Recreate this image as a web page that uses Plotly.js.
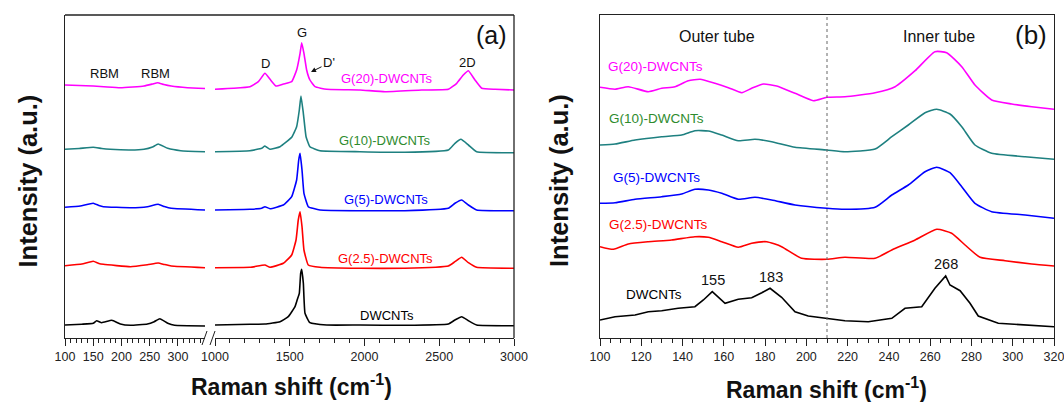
<!DOCTYPE html>
<html><head><meta charset="utf-8">
<script src="https://cdn.plot.ly/plotly-3.0.1.min.js"></script>
<style>html,body{margin:0;padding:0;background:#fff}#chart{width:1064px;height:402px}</style>
</head><body><div id="chart"></div>
<script>
// ---------------- DATA ----------------
const seriesNames = ["G(20)-DWCNTs","G(10)-DWCNTs","G(5)-DWCNTs","G(2.5)-DWCNTs","DWCNTs"];
const peakLabelsA = ["RBM","RBM","D","G","D'","2D"];
const peakLabelsB = ["155","183","268"];
const xTicksA1 = [100,150,200,250,300];
const xTicksA2 = [1000,1500,2000,2500,3000];

// Panel (a), low-frequency segment (100-350 cm-1), stacked intensities
const aLoX_G20 = [100,125,150,175,198,220,240,255,264,275,288,317,348];
const aLoY_G20 = [255,254.5,254,253,252.3,253,254,256,257.3,255.5,254,252.3,251.5];
const aLoX_G10 = [100,125,150,165,180,216,240,255,265,282,305,348];
const aLoY_G10 = [190.7,191.5,192.7,191.5,190.7,190,190.7,193,196,191.7,189.3,188.3];
const aLoX_G5  = [100,127,150,160,168,216,246,265,276,288,348];
const aLoY_G5  = [132.7,134,136.7,134.5,133.3,132.3,133.3,135.7,133.5,131.7,130];
const aLoX_G25 = [100,130,150,160,168,216,246,265,276,288,348];
const aLoY_G25 = [74.3,76,78.7,76.5,75.7,73.3,75.3,77,75.5,74,72.3];
const aLoX_D   = [100,130,150,156,165,183,198,216,246,258,268,282,294,348];
const aLoY_D   = [15,15.8,16.7,19.3,17.3,19.7,16,14.7,16,18.3,21.3,16.7,14.7,14];

// Panel (a), high-frequency segment (1000-3000 cm-1)
const aHiX_G20 = [1000,1122,1234,1290,1334,1368,1408,1457,1513,1546,1569,1580,1595,1613,1635,1669,1747,1970,2137,2382,2561,2617,2661,2695,2739,2784,2873,3000];
const aHiY_G20 = [250.7,251.7,253.3,258.3,266.7,260.7,254,256,258.3,270,286.7,297.3,286.7,270,260,253.3,250.7,250,248.3,250,250.7,256.7,265,269.3,260,251.7,250.7,250];
const aHiX_G10 = [1000,1234,1312,1334,1368,1435,1513,1546,1564,1575,1591,1609,1635,1702,1970,2270,2561,2605,2645,2695,2750,3000];
const aHiY_G10 = [188.3,189.3,191.7,194,190.7,193.3,202.7,213.3,230,244,226.7,203.3,193.3,189.3,188.3,187.7,190,196.7,200.7,195,188.3,187.3];
const aHiX_G5  = [1000,1234,1312,1334,1368,1457,1513,1546,1560,1569,1582,1595,1624,1702,1970,2270,2561,2605,2650,2695,2750,3000];
const aHiY_G5  = [130,130.7,131.7,133.3,131.3,135,143.3,160,180,186.7,170,146.7,133.3,130,129.3,129.3,131.7,136.7,140,135,130,129.3];
const aHiX_G25 = [1000,1234,1334,1368,1457,1513,1542,1557,1569,1582,1595,1624,1702,1970,2270,2561,2605,2650,2695,2750,3000];
const aHiY_G25 = [72.3,72.7,75,72.7,76.7,85,100,120,128.3,113.3,90,75,72.7,71.7,71.7,74,78.3,82.7,77.3,72.7,71.7];
const aHiX_D   = [1000,1234,1334,1435,1490,1535,1551,1564,1573,1580,1591,1602,1635,1747,1970,2270,2561,2605,2650,2695,2750,3000];
const aHiY_D   = [15,15.7,16,18.3,23.3,33.3,40.7,46.7,66.7,70.7,56.7,26.7,17.3,15,15,14.7,16,20,23.3,19.3,15,14.3];

// Panel (b), RBM region (100-320 cm-1)
const bX_G20 = [100,107.3,113.7,123.4,129.9,136.3,142.8,148.5,155.7,162.2,168.7,173.5,179.2,185.6,194.5,203.4,209.9,218.7,233.3,243,252.7,262.3,268,275.3,281.7,289.8,299.5,309.2,320];
const bY_G20 = [252.7,250.7,253.3,248.3,251.7,253.3,259.3,260.7,256.7,252.3,247.3,251.7,256,254,246.7,239.3,242.7,243.3,247.3,253.3,269.3,288.3,287.3,273.3,255,240,236,233.3,230.7];
const bX_G10 = [100,107.3,117,129.9,139.6,146,152.5,159,167,175.1,183.2,194.5,209.9,218.7,233.3,241.4,249.4,257.5,263.2,269.6,275.3,281.7,289.8,306,320];
const bY_G10 = [195,196,200,203.3,205,209.3,209,205,199.3,200.7,198.3,192.7,190,188.3,191,203.3,215,227.3,230.7,226,213.3,195,186.7,183.3,180.7];
const bX_G5  = [100,107.3,117,129.9,139.6,146,152.5,159,167,175.1,183.2,194.5,209.9,218.7,233.3,241.4,249.4,257.5,263.2,269.6,275.3,281.7,289.8,306,320];
const bY_G5  = [136.7,137.3,140.7,143.3,146,150.7,150,146.7,140.7,142.7,140,135,131.7,130.7,132.7,145,155,168.3,172.7,167.3,153.3,136.7,128.3,125,121.7];
const bX_G25 = [100,106.5,113.7,123.4,134.7,146,152.5,159,167,173.5,180.8,188,197.7,209.9,218.7,233.3,241.4,252.7,263.2,270.4,276.9,284.2,296.3,309.2,320];
const bY_G25 = [93.3,90.7,96,98.3,100,103.3,102.7,98.3,92.7,96.7,98.3,93.3,81.7,80.7,82.7,81.7,90,100,110.7,106.7,95,82.7,79.3,76,74];
const bX_D   = [100,107.3,117,123.4,129.9,137.9,146,150.1,154.4,160.6,167,173.5,178.4,182.4,188,194.5,200.9,209.9,218.7,230,241.4,247.8,255.9,262.3,267.5,269.6,274.5,279.3,283.3,293,306,320];
const bY_D   = [20,23.3,25,28.3,29.3,31.7,33.3,40,48.3,36.7,40.7,42.3,47.3,51.7,42.7,28.3,24,21.7,19.3,18.3,21.7,31.7,33.3,51.7,64,55,49.3,36.7,24,16.7,15,13.3];
const bDivider = 210;

// ---------------- STYLE ----------------
const W = 1064, H = 402;
const FONT = "Liberation Sans, Arial, sans-serif";
const lineColors  = ["#FF00FF","#1E8080","#0000FF","#FF0000","#000000"];
const labelColors = ["#FF00FF","#2E8B2E","#0000FF","#FF0000","#000000"];
const px = v => v / W;
const py = v => 1 - v / H;
const AX = "#222";

const aLo = [[aLoX_G20,aLoY_G20],[aLoX_G10,aLoY_G10],[aLoX_G5,aLoY_G5],[aLoX_G25,aLoY_G25],[aLoX_D,aLoY_D]];
const aHi = [[aHiX_G20,aHiY_G20],[aHiX_G10,aHiY_G10],[aHiX_G5,aHiY_G5],[aHiX_G25,aHiY_G25],[aHiX_D,aHiY_D]];
const bS  = [[bX_G20,bY_G20],[bX_G10,bY_G10],[bX_G5,bY_G5],[bX_G25,bY_G25],[bX_D,bY_D]];

const traces = [];
seriesNames.forEach((n, i) => {
  const ln = {color: lineColors[i], width: 1.6, shape: 'spline', smoothing: 0.35};
  traces.push({x: aLo[i][0], y: aLo[i][1], xaxis: 'x', yaxis: 'y', mode: 'lines', name: n, line: ln, hoverinfo: 'skip'});
  traces.push({x: aHi[i][0], y: aHi[i][1], xaxis: 'x2', yaxis: 'y', mode: 'lines', name: n, line: ln, hoverinfo: 'skip'});
  const lb = i === 4 ? {color: lineColors[i], width: 1.6} : {color: lineColors[i], width: 1.6, shape: 'spline', smoothing: 0.5};
  traces.push({x: bS[i][0], y: bS[i][1], xaxis: 'x3', yaxis: 'y2', mode: 'lines', name: n, line: lb, hoverinfo: 'skip'});
});

const yDom = [py(338), py(15)];
const tickFont = {family: FONT, size: 12.5, color: '#222'};
function xa(domain, range, tick0, dtick, mdtick) {
  return {domain, range, tick0, dtick, tickmode: 'linear', ticks: 'outside', ticklen: 7, tickwidth: 1, tickcolor: AX,
    showline: true, linecolor: AX, linewidth: 1.3, showgrid: false, zeroline: false, tickfont: tickFont,
    ticklabeloverflow: 'allow',
    minor: {tick0, dtick: mdtick, ticks: 'outside', ticklen: 4, tickwidth: 1, tickcolor: AX, showgrid: false},
    fixedrange: true};
}
const layout = {
  width: W, height: H, margin: {l: 0, r: 0, t: 0, b: 0}, showlegend: false,
  paper_bgcolor: '#fff', plot_bgcolor: 'rgba(0,0,0,0)',
  xaxis:  Object.assign(xa([px(65), px(205)], [100, 348], 100, 50, 10), {anchor: 'y'}),
  xaxis2: Object.assign(xa([px(215), px(514)], [1000, 3000], 1000, 500, 100), {anchor: 'y'}),
  xaxis3: Object.assign(xa([px(600), px(1054)], [100, 320], 100, 20, 5), {anchor: 'y2', mirror: true}),
  yaxis:  {domain: yDom, range: [2, 325], anchor: 'x', showticklabels: false, ticks: '', showgrid: false, zeroline: false,
           showline: true, linecolor: AX, linewidth: 1.3, fixedrange: true},
  yaxis2: {domain: yDom, range: [2, 325], anchor: 'x3', showticklabels: false, ticks: '', showgrid: false, zeroline: false,
           showline: true, mirror: true, linecolor: AX, linewidth: 1.3, fixedrange: true},
  shapes: [
    {type: 'line', xref: 'paper', yref: 'paper', x0: px(65), x1: px(514), y0: py(15), y1: py(15), line: {color: AX, width: 1.3}},
    {type: 'line', xref: 'paper', yref: 'paper', x0: px(514), x1: px(514), y0: py(15), y1: py(338), line: {color: AX, width: 1.3}},
    {type: 'line', xref: 'paper', yref: 'paper', x0: px(202), x1: px(207), y0: py(345), y1: py(331), line: {color: AX, width: 1}},
    {type: 'line', xref: 'paper', yref: 'paper', x0: px(210), x1: px(215), y0: py(345), y1: py(331), line: {color: AX, width: 1}},
    {type: 'line', xref: 'x3', yref: 'paper', x0: bDivider, x1: bDivider, y0: yDom[0], y1: yDom[1], line: {color: '#666', width: 1, dash: 'dot'}}
  ],
  annotations: []
};
function ann(x, y, text, size, color, extra) {
  layout.annotations.push(Object.assign({xref: 'paper', yref: 'paper', x: px(x), y: py(y), text, showarrow: false,
    xanchor: 'center', yanchor: 'middle', font: {family: FONT, size, color: color || '#111'}}, extra || {}));
}
// panel a
ann(104, 74, peakLabelsA[0], 13);
ann(155.5, 74, peakLabelsA[1], 13);
ann(265, 63, peakLabelsA[2], 13);
ann(302.3, 32.7, peakLabelsA[3], 13);
layout.annotations.push({xref: 'paper', yref: 'paper', x: px(311), y: py(72), ax: 18, ay: -9, text: peakLabelsA[4],
  showarrow: true, arrowhead: 2, arrowsize: 1, arrowwidth: 1, arrowcolor: '#111', standoff: 0,
  font: {family: FONT, size: 13, color: '#111'}});
ann(467.7, 62.7, peakLabelsA[5], 13);
ann(491, 35, '(a)', 25);
const aLabY = [78.3, 140.7, 199.3, 258.3, 315];
const aLabX = [387, 384.5, 386, 385.7, 386.7];
seriesNames.forEach((n, i) => ann(aLabX[i], aLabY[i], n, 13, labelColors[i]));
ann(291, 385, '<b>Raman shift (cm<sup>-1</sup>)</b>', 23);
ann(27.5, 181, '<b>Intensity (a.u.)</b>', 25.5, '#111', {textangle: -90});
// panel b
ann(716.6, 36, 'Outer tube', 16);
ann(938.7, 36, 'Inner tube', 16);
ann(1030.7, 35, '(b)', 26);
const bLabY = [66.7, 119, 177.3, 225, 294];
const bLabX = [655.5, 657, 656, 657.5, 654];
seriesNames.forEach((n, i) => ann(bLabX[i], bLabY[i], n, 13.5, labelColors[i]));
ann(713, 280, peakLabelsB[0], 14.5);
ann(771, 277.3, peakLabelsB[1], 14.5);
ann(946, 264, peakLabelsB[2], 14.5);
ann(826.7, 388, '<b>Raman shift (cm<sup>-1</sup>)</b>', 23);
ann(559, 181, '<b>Intensity (a.u.)</b>', 25.5, '#111', {textangle: -90});

Plotly.newPlot('chart', traces, layout, {staticPlot: true, displayModeBar: false});
</script>
</body></html>
